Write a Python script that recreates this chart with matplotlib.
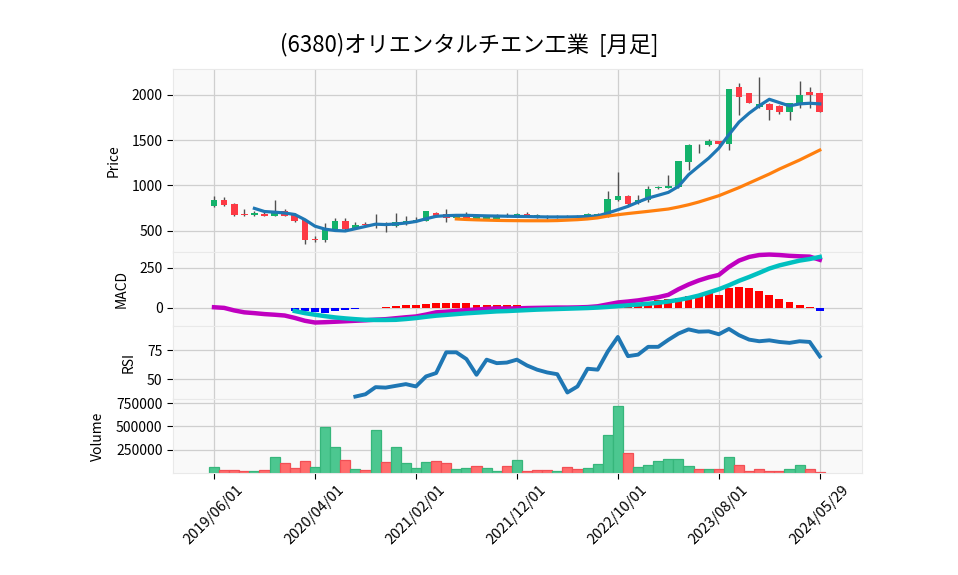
import numpy as np
import matplotlib
matplotlib.use("Agg")
import matplotlib.pyplot as plt

plt.rcParams['font.family'] = ['Noto Sans CJK JP', 'DejaVu Sans']

title = "(6380)オリエンタルチエン工業  [月足]"
tick_labels = ["2019/06/01", "2020/04/01", "2021/02/01", "2021/12/01",
               "2022/10/01", "2023/08/01", "2024/05/29"]

opens = [767, 841, 797, 686, 668, 686, 664, 719, 675, 620, 410, 392, 521, 609, 528, 576, 557, 557, 554, 576,
         594, 602, 694, 679, 638, 686, 630, 627, 627, 675, 660, 686, 657, 657, 650, 660, 655, 664, 664, 664,
         833, 885, 804, 833, 970, 970, 981, 1253, 1430, 1441, 1485, 1455, 2085, 2018, 1871, 1901, 1879, 1816, 1908, 2037,
         2018]
highs = [885, 866, 800, 738, 712, 700, 841, 738, 690, 630, 436, 583, 638, 638, 594, 590, 686, 594, 694, 657,
         649, 720, 700, 738, 680, 700, 680, 670, 680, 690, 695, 700, 685, 670, 670, 668, 668, 692, 692, 933,
         1143, 890, 896, 988, 990, 1117, 1270, 1455, 1455, 1511, 1490, 2070, 2136, 2020, 2195, 1910, 1885, 1915, 2151, 2092,
         2025]
lows = [760, 767, 657, 660, 660, 657, 657, 660, 595, 355, 370, 370, 515, 491, 520, 550, 528, 484, 540, 565,
        590, 600, 650, 594, 630, 630, 625, 620, 620, 645, 650, 645, 640, 630, 640, 645, 645, 655, 655, 650,
        830, 780, 790, 820, 960, 965, 975, 1172, 1363, 1430, 1440, 1393, 1779, 1910, 1860, 1724, 1790, 1724, 1853, 1853,
        1810]
closes = [841, 786, 675, 668, 694, 664, 712, 664, 602, 399, 392, 510, 609, 521, 565, 562, 568, 546, 594, 609,
          620, 712, 664, 638, 668, 638, 660, 657, 657, 657, 686, 657, 668, 638, 657, 655, 660, 686, 686, 848,
          885, 797, 840, 959, 977, 988, 1264, 1448, 1440, 1485, 1455, 2063, 1982, 1915, 1901, 1834, 1816, 1908, 2000, 2000,
          1816]
volumes = [61000, 29000, 29000, 14000, 14000, 29000, 169000, 104000, 50000, 126000,
           61000, 493000, 277000, 137000, 40000, 29000, 460000, 112000, 277000, 104000,
           50000, 115000, 126000, 104000, 40000, 50000, 72000, 50000, 18000, 72000,
           137000, 18000, 29000, 29000, 18000, 61000, 40000, 50000, 94000, 406000,
           719000, 209000, 61000, 83000, 126000, 147000, 147000, 72000, 40000, 40000,
           40000, 169000, 83000, 18000, 40000, 18000, 18000, 40000, 83000, 40000,
           11000]
vol_up = [1, 0, 0, 0, 1, 0, 1, 0, 0, 0, 1, 1, 1, 0, 1, 0, 1, 0, 1, 1,
          1, 1, 0, 0, 1, 1, 0, 1, 1, 0, 1, 0, 0, 0, 1, 0, 0, 1, 1, 1,
          1, 0, 1, 1, 1, 1, 1, 1, 0, 1, 0, 1, 0, 0, 0, 0, 0, 1, 1, 0,
          0]
ma_short = [None, None, None, None, 745, 710, 703, 694, 677, 620, 548, 515, 500, 495, 520, 545, 570, 566, 572, 583,
            600, 630, 657, 664, 668, 668, 665, 662, 660, 658, 656, 655, 652, 650, 650, 650, 652, 655, 662, 693,
            730, 767, 815, 859, 890, 922, 988, 1117, 1210, 1301, 1411, 1560, 1700, 1798, 1880, 1952, 1915, 1879, 1901, 1908,
            1901]
ma_long = [None] * 24 + [628, 622, 618, 615, 612, 610, 609, 608, 608, 608, 610, 615, 620, 628, 640, 660,
                         675, 688, 700, 712, 725, 738, 760, 785, 815, 850, 885, 930, 975, 1025, 1075, 1125,
                         1180, 1230, 1280, 1335, 1390]
macd = [2, -2, -18, -30, -35, -41, -45, -50, -65, -83, -94, -92, -89, -86, -83, -80, -76, -73, -67, -61,
        -56, -44, -30, -26, -21, -16, -12, -8, -5, -6, -5, -3, -2, -1, 0, 0, 1, 3, 8, 20,
        32, 38, 45, 55, 65, 80, 115, 145, 170, 190, 205, 255, 295, 318, 330, 333, 330, 325, 322, 320,
        300]
signal = [None] * 8 + [-22, -35, -45, -54, -62, -68, -73, -77, -78, -78, -77, -72,
                       -66, -58, -51, -46, -41, -36, -32, -28, -24, -22, -19, -16, -13, -11, -9, -7,
                       -5, -3, 0, 4, 9, 14, 19, 24, 30, 38, 48, 60, 75, 95, 115, 140, 168, 192,
                       218, 245, 265, 280, 295, 305, 318]
hist = [None] * 8 + [-19, -23, -30, -36, -23, -17, -9, -4, 0, 4, 11, 17,
                     17, 24, 30, 26, 26, 26, 17, 13, 13, 13, 13, 8, 5, 3, 2, 1,
                     1, 2, 3, 6, 15, 23, 30, 38, 45, 55, 60, 73, 81, 94, 81, 120, 128, 124,
                     103, 77, 51, 32, 19, 6, -19]
rsi = [None] * 14 + [35.3, 37.3, 43.4, 43, 44.5, 46,
                     44, 52.6, 55.5, 73.3, 73.3, 67.5, 54, 67, 64, 64.5, 67, 62, 58.4, 56, 54.5, 38.8,
                     44, 59.2, 58.4, 74, 86.5, 70, 71.3, 78, 78, 84, 89.4, 93, 91, 91.3, 88.8, 93.4,
                     88, 84.2, 82.8, 83.6, 82.2, 81.4, 82.8, 82.2, 69.8]

o = np.array(opens, float); h = np.array(highs, float)
l = np.array(lows, float); c = np.array(closes, float)
v = np.array(volumes, float)
n = len(o)
x = np.arange(n)

UP = '#13b26b'
DOWN = '#fd3a45'
VUP = '#4cc790'
VDOWN = '#ff6b6b'
FACE = '#f9f9f9'
GRID = '#cfcfcf'

fig = plt.figure(figsize=(9.58, 5.75), dpi=100)
left, right, top, bottom = 0.1806, 0.9, 0.88, 0.178
gs = fig.add_gridspec(4, 1, height_ratios=[2.5, 1, 1, 1], hspace=0,
                      left=left, right=right, top=top, bottom=bottom)
ax_p = fig.add_subplot(gs[0])
ax_m = fig.add_subplot(gs[1], sharex=ax_p)
ax_r = fig.add_subplot(gs[2], sharex=ax_p)
ax_v = fig.add_subplot(gs[3], sharex=ax_p)

for ax in (ax_p, ax_m, ax_r, ax_v):
    ax.set_facecolor(FACE)
    ax.grid(True, color=GRID, linewidth=0.9)
    ax.set_axisbelow(True)
    for s in ax.spines.values():
        s.set_color('#e9e9e9')
        s.set_linewidth(0.8)
    ax.tick_params(axis='y', labelsize=10, length=4, width=0.8, colors='black')
for ax in (ax_p, ax_m, ax_r):
    ax.tick_params(axis='x', length=0, labelbottom=False)

# Price panel
up = c >= o
colors = np.where(up, UP, DOWN)
ax_p.vlines(x, l, h, color='#505050', linewidth=1.0, zorder=2)
body_b = np.minimum(o, c)
body_h = np.maximum(np.abs(c - o), 6)
ax_p.bar(x, body_h, bottom=body_b, width=0.66, color=colors, linewidth=0, zorder=3)
ax_p.plot(x, np.array(ma_short, float), color='#1f77b4', linewidth=2.3, zorder=4)
ax_p.plot(x, np.array(ma_long, float), color='#ff7f0e', linewidth=2.3, zorder=4)
ax_p.set_ylim(257, 2287)
ax_p.set_yticks([500, 1000, 1500, 2000])
ax_p.set_ylabel('Price', fontsize=10, labelpad=8)

# MACD panel
hv = np.array(hist, float)
hcol = np.where(hv >= 0, '#ff0000', '#0000ff')
ax_m.bar(x, np.nan_to_num(hv), width=0.78, color=hcol, linewidth=0, zorder=2)
ax_m.plot(x, np.array(macd, float), color='#c000c0', linewidth=3.2, zorder=3)
ax_m.plot(x, np.array(signal, float), color='#00c0c0', linewidth=3.2, zorder=4)
ax_m.set_ylim(-115, 346)
ax_m.set_yticks([0, 250])
ax_m.set_ylabel('MACD', fontsize=10, labelpad=8)

# RSI panel
ax_r.plot(x, np.array(rsi, float), color='#1f77b4', linewidth=2.8, zorder=3)
ax_r.set_ylim(33, 96)
ax_r.set_yticks([50, 75])
ax_r.set_ylabel('RSI', fontsize=10, labelpad=8)

# Volume panel
vcol = np.where(np.array(vol_up) == 1, VUP, VDOWN)
vedge = np.where(np.array(vol_up) == 1, '#36b67b', '#f24f55')
ax_v.bar(x, v, width=1.0, color=vcol, edgecolor=vedge, linewidth=0.9, zorder=2)
ax_v.set_ylim(0, 793000)
ax_v.set_yticks([250000, 500000, 750000])
ax_v.set_yticklabels([f"{t:d}" for t in [250000, 500000, 750000]])
ax_v.set_ylabel('Volume', fontsize=10, labelpad=8)

ticks = list(range(0, n, 10))
ax_v.set_xticks(ticks)
ax_v.set_xticklabels(tick_labels, rotation=45, fontsize=10.5)
ax_v.tick_params(axis='x', length=4, width=0.8, colors='black', labelbottom=True)
ax_p.set_xlim(-4.06, 64.2)

fig.text(0.49, 0.921, title, ha='center', va='center', fontsize=16)

fig.savefig('out.png', dpi=100)
